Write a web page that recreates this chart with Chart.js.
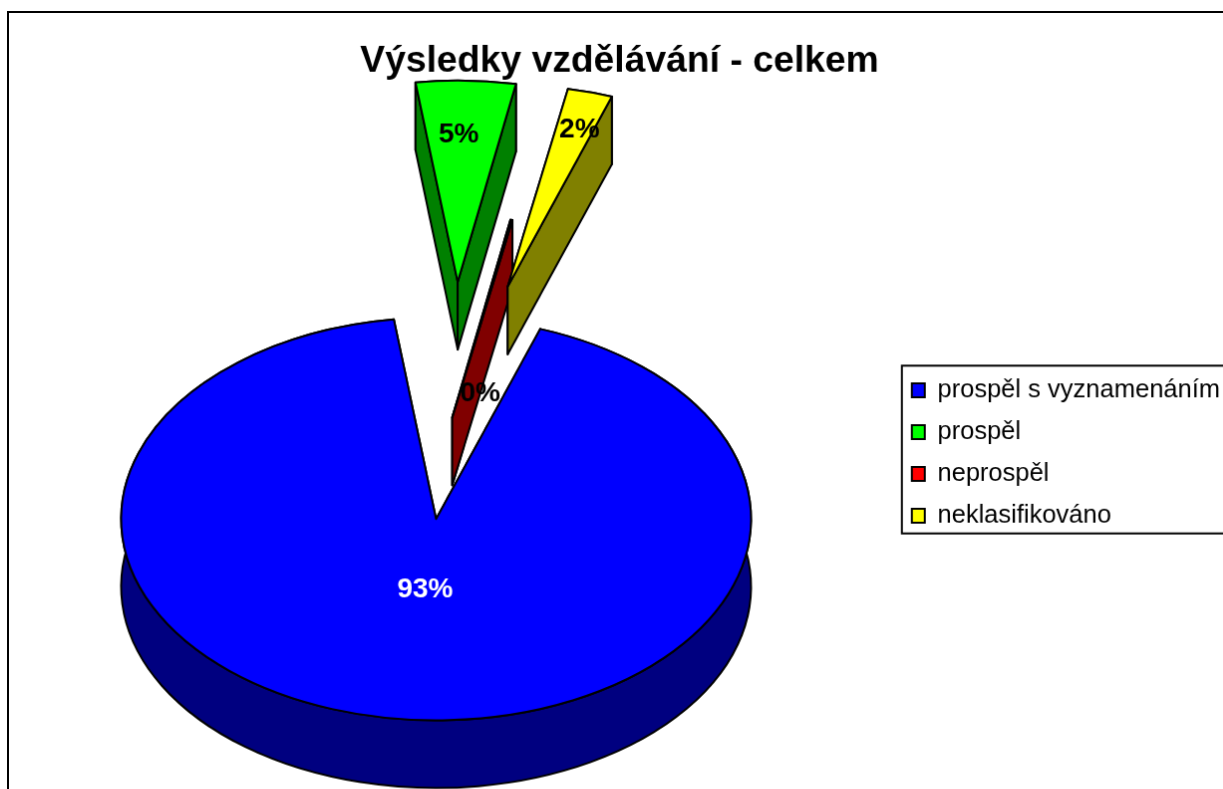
<!DOCTYPE html>
<html lang="cs">
<head>
    <meta charset="UTF-8">
    <title>Výsledky vzdělávání</title>
    <script src="https://cdn.jsdelivr.net/npm/chart.js"></script>
    <style>
        html, body { margin: 0; height: 100%; overflow: hidden; background: #fff; }
        #pie { position: absolute; left: 7px; top: 11px; border: 2px solid #000; }
    </style>
</head>
<body>
    <canvas id="pie" width="1220" height="884"></canvas>
    <script>
        const chartTitle = 'Výsledky vzdělávání - celkem';
        const categories = ['prospěl s vyznamenáním', 'prospěl', 'neprospěl', 'neklasifikováno'];
        const shares = [92.5, 5.1, 0.1, 2.3];
        const faceColors = ['#0000ff', '#00ff00', '#ff0000', '#ffff00'];
        const wallColors = ['#000080', '#008000', '#800000', '#808000'];

        // fake 3d settings
        const tilt = 0.64;
        const depth = 68;
        const pieShiftY = -78;
        const explode = [160, 213, 0, 213];
        const drawOrder = [1, 2, 3, 0];
        const labelNudge = [[-11, 71], [1, -148], [28, -24], [72, -158]];
        const labelColors = ['#fff', '#000', '#000', '#000'];
        const fontName = '"Liberation Sans", Arial, sans-serif';

        // draws the slices of the pie as extruded wedges, angles come from the arc elements
        const pie3d = {
            id: 'pie3d',
            beforeDatasetDraw(chart, args) {
                const ctx = chart.ctx;
                const arcs = args.meta.data;
                const centers = arcs.map((arc, i) => {
                    const mid = (arc.startAngle + arc.endAngle) / 2;
                    return {
                        x: arc.x + Math.cos(mid) * explode[i],
                        y: arc.y + pieShiftY + Math.sin(mid) * explode[i] * tilt
                    };
                });
                ctx.save();
                ctx.strokeStyle = '#000';
                ctx.lineWidth = 2;
                ctx.lineJoin = 'round';
                drawOrder.forEach(i => {
                    const arc = arcs[i];
                    const c = centers[i];
                    const r = arc.outerRadius;
                    const paint = (color) => { ctx.fillStyle = color; ctx.fill(); ctx.stroke(); };
                    ctx.beginPath();
                    ctx.ellipse(c.x, c.y, r, r * tilt, 0, arc.startAngle, arc.endAngle);
                    ctx.ellipse(c.x, c.y + depth, r, r * tilt, 0, arc.endAngle, arc.startAngle, true);
                    ctx.closePath();
                    paint(wallColors[i]);
                    [arc.startAngle, arc.endAngle].forEach(a => {
                        const px = c.x + Math.cos(a) * r;
                        const py = c.y + Math.sin(a) * r * tilt;
                        ctx.beginPath();
                        ctx.moveTo(c.x, c.y);
                        ctx.lineTo(px, py);
                        ctx.lineTo(px, py + depth);
                        ctx.lineTo(c.x, c.y + depth);
                        ctx.closePath();
                        paint(wallColors[i]);
                    });
                    ctx.beginPath();
                    ctx.moveTo(c.x, c.y);
                    ctx.ellipse(c.x, c.y, r, r * tilt, 0, arc.startAngle, arc.endAngle);
                    ctx.closePath();
                    paint(faceColors[i]);
                });
                //percent labels
                const total = shares.reduce((a, b) => a + b, 0);
                ctx.font = 'bold 28px ' + fontName;
                ctx.textAlign = 'center';
                ctx.textBaseline = 'middle';
                shares.forEach((v, i) => {
                    ctx.fillStyle = labelColors[i];
                    ctx.fillText(Math.round(v / total * 100) + '%', centers[i].x + labelNudge[i][0], centers[i].y + labelNudge[i][1]);
                });
                ctx.restore();
                return false;
            }
        };

        // frame round the legend
        const legendFrame = {
            id: 'legendFrame',
            afterDraw(chart) {
                const boxes = chart.legend.legendHitBoxes;
                const ctx = chart.ctx;
                const top = boxes[0].top - 12;
                const bottom = boxes[boxes.length - 1].top + boxes[boxes.length - 1].height + 5;
                ctx.save();
                ctx.strokeStyle = '#000';
                ctx.lineWidth = 2;
                ctx.strokeRect(boxes[0].left - 10, top, 400, bottom - top);
                ctx.restore();
            }
        };

        new Chart(document.getElementById('pie'), {
            type: 'pie',
            data: {
                labels: categories,
                datasets: [{
                    data: shares,
                    backgroundColor: faceColors,
                    borderColor: '#000',
                    borderWidth: 2
                }]
            },
            options: {
                responsive: false,
                animation: false,
                rotation: 19.3,
                radius: 316,
                layout: { padding: { left: 0, right: -5, top: 0, bottom: 0 } },
                plugins: {
                    tooltip: { enabled: false },
                    title: {
                        display: true,
                        text: chartTitle,
                        color: '#000',
                        font: { family: fontName, size: 37.3, weight: 'bold' },
                        padding: { top: 26, bottom: 14 }
                    },
                    legend: {
                        position: 'right',
                        labels: {
                            color: '#000',
                            font: { family: fontName, size: 25.5 },
                            boxWidth: 13,
                            boxHeight: 14,
                            padding: 16.5
                        }
                    }
                }
            },
            plugins: [pie3d, legendFrame]
        });
    </script>
</body>
</html>
